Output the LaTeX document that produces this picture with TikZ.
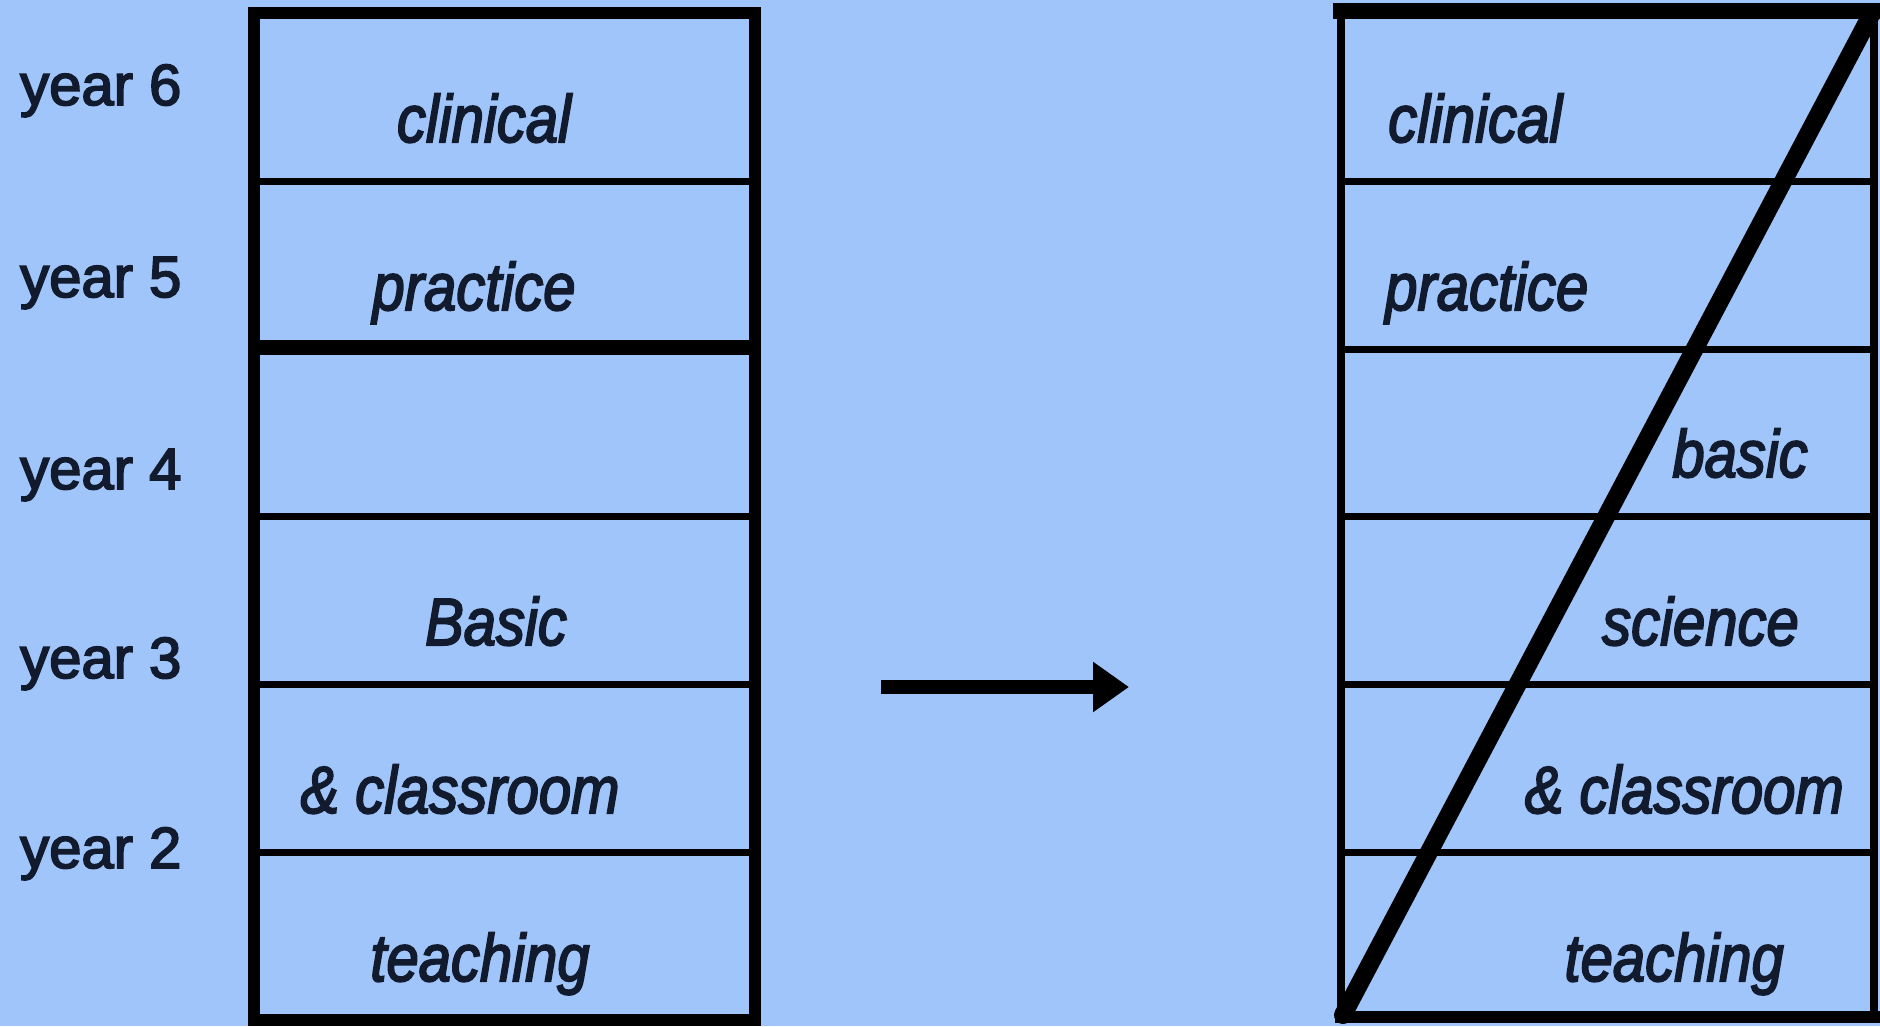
\documentclass[tikz,border=0pt]{standalone}
\usepackage{fontspec}
\setmainfont{Liberation Sans}
\newfontfamily\lblfont{Liberation Sans}[FakeBold=3,ItalicFeatures={FakeBold=3}]
\usetikzlibrary{arrows.meta}
\definecolor{bgblue}{RGB}{160,197,250}
\definecolor{ink}{RGB}{18,26,46}
\begin{document}
\begin{tikzpicture}[x=1pt,y=-1pt,
  yearlbl/.style={anchor=base west,inner sep=0pt,text=ink,font=\lblfont\fontsize{58}{60}\selectfont},
  celllbl/.style={inner sep=0pt,text=ink,font=\lblfont\fontsize{58}{60}\selectfont\itshape},
  outline/.style={line width=12pt,line cap=rect},
  rowline/.style={line width=7pt},
  heavyline/.style={line width=15pt},
  arr/.style={line width=14pt,-{Triangle[length=36pt,width=48pt]}}]
% background
\fill[bgblue] (0,0) rectangle (1880,1026);
\useasboundingbox (0,0) rectangle (1880,1026);

% ---- left column: year labels
\node[yearlbl] (y6) at (20,105) {year 6};
\node[yearlbl] (y5) at (20,297) {year 5};
\node[yearlbl] (y4) at (20,489) {year 4};
\node[yearlbl] (y3) at (20,678) {year 3};
\node[yearlbl] (y2) at (20,868) {year 2};

% ---- left box: separate blocks
\draw[rowline] (254,181) -- (755,181);
\draw[heavyline] (254,347) -- (755,347);
\draw[rowline] (254,516) -- (755,516);
\draw[rowline] (254,684) -- (755,684);
\draw[rowline] (254,852) -- (755,852);
\draw[outline] (254,13) rectangle (755,1020);

\node[celllbl,anchor=base] (lclin) at (484,142) {\scalebox{1}[1.15]{clinical}};
\node[celllbl,anchor=base] (lprac) at (474,310) {\scalebox{1}[1.15]{practice}};
\node[celllbl,anchor=base] (lbas)  at (496,645) {\scalebox{1}[1.15]{Basic}};
\node[celllbl,anchor=base] (lcls)  at (460,813) {\scalebox{1}[1.15]{\& classroom}};
\node[celllbl,anchor=base] (ltch)  at (480,981) {\scalebox{1}[1.15]{teaching}};

% ---- arrow between the two schemes
\coordinate (afrom) at (881,687);
\coordinate (ato) at (1129,687);
\draw[arr] (afrom) -- (ato);

% ---- right box: integrated scheme
\coordinate (rbl) at (1343,1015);
\coordinate (rtr) at (1872,13);
\draw[rowline] (1341,181) -- (1874,181);
\draw[rowline] (1341,349) -- (1874,349);
\draw[rowline] (1341,516) -- (1874,516);
\draw[rowline] (1341,684) -- (1874,684);
\draw[rowline] (1341,852) -- (1874,852);
\draw[line width=8pt] (1341,11) -- (1341,1017);
\draw[line width=8pt] (1874,11) -- (1874,1017);
\draw[line width=12pt,line cap=rect] (1341,1017) -- (1874,1017);
\draw[line width=16pt,line cap=rect] (1341,11) -- (1874,11);
\draw[line width=18pt,line cap=round] (rbl) -- (rtr);

\node[celllbl,anchor=base west] (rclin) at (1388,142) {\scalebox{1}[1.15]{clinical}};
\node[celllbl,anchor=base west] (rprac) at (1385,310) {\scalebox{1}[1.15]{practice}};
\node[celllbl,anchor=base east] (rbas)  at (1808,477) {\scalebox{1}[1.15]{basic}};
\node[celllbl,anchor=base east] (rsci)  at (1799,645) {\scalebox{1}[1.15]{science}};
\node[celllbl,anchor=base east] (rcls)  at (1844,813) {\scalebox{1}[1.15]{\& classroom}};
\node[celllbl,anchor=base east] (rtch)  at (1784,981) {\scalebox{1}[1.15]{teaching}};
\end{tikzpicture}
\end{document}
